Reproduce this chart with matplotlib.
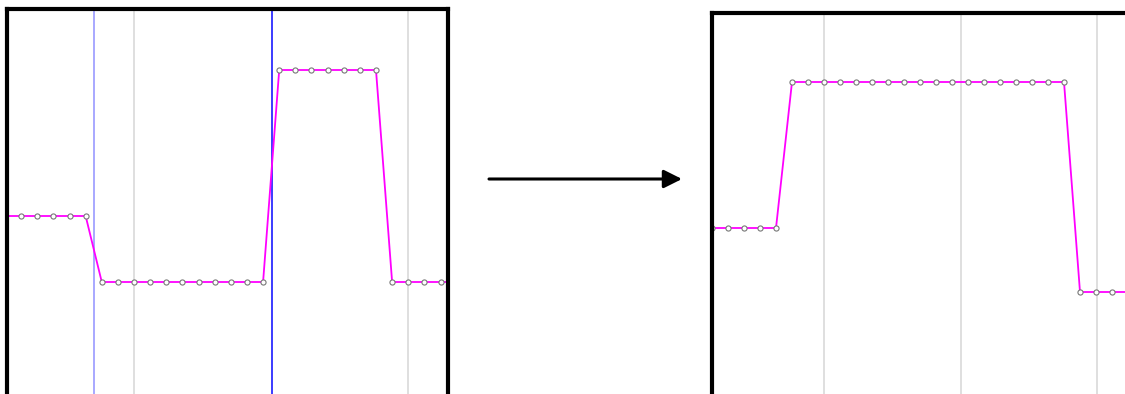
import numpy as np
import matplotlib.pyplot as plt

# ===== DATA =====
# left panel: signal samples (step index -> level)
left_idx = np.arange(0, 29)
left_val = [66] * 6 + [0] * 11 + [212] * 7 + [0] * 5
left_grid = [8, 25]
left_marks = [5.52, 16.55]          # vertical cursor lines
left_mark_colors = ["#9a9aff", "#1a1aff"]

# right panel: signal after transformation
right_idx = np.arange(0, 27)
right_val = [64] * 5 + [210] * 18 + [0] * 4
right_grid = [7, 15.56, 24.06]

W, H = 1125, 394
fig = plt.figure(figsize=(W / 100, H / 100), dpi=100)


def px_axes(x0, x1, y_top, y_bot):
    # axes placed by pixel box (y measured from top)
    return fig.add_axes([x0 / W, 1 - y_bot / H, (x1 - x0) / W, (y_bot - y_top) / H])


def style(ax, show_right):
    ax.set_xticks([])
    ax.set_yticks([])
    for s in ["top", "left", "right"]:
        ax.spines[s].set_linewidth(3)
        ax.spines[s].set_color("black")
        ax.spines[s].set_zorder(5)
    ax.spines["bottom"].set_visible(False)
    ax.spines["right"].set_visible(show_right)


def draw_signal(ax, x, y):
    ax.plot(x, y, color="#ff00ff", linewidth=1.3, zorder=3,
            marker="o", markersize=3.7, markerfacecolor="white",
            markeredgecolor="#777777", markeredgewidth=0.8)


# ===== LEFT PANEL =====
axL = px_axes(7, 448, 9, 430)
for g in left_grid:
    axL.axvline(g, color="#d9d9d9", linewidth=1.2, zorder=1)
for m, c in zip(left_marks, left_mark_colors):
    axL.axvline(m, color=c, linewidth=1.2, zorder=2)
draw_signal(axL, left_idx, left_val)
axL.set_xlim((7 - 5) / 16.13, (448 - 5) / 16.13)
axL.set_ylim(282 - 430, 282 - 9)
style(axL, True)

# ===== RIGHT PANEL =====
axR = px_axes(712, 1145, 13, 430)
for g in right_grid:
    axR.axvline(g, color="#d9d9d9", linewidth=1.2, zorder=1)
draw_signal(axR, right_idx, right_val)
axR.set_xlim(0, (1145 - 712) / 16.0)
axR.set_ylim(292 - 430, 292 - 13)
style(axR, False)

# ===== ARROW =====
axA = fig.add_axes([0, 0, 1, 1])
axA.set_xlim(0, W)
axA.set_ylim(H, 0)
axA.axis("off")
axA.annotate("", xy=(682, 179), xytext=(489, 179),
             arrowprops=dict(arrowstyle="-|>,head_length=1.1,head_width=0.55",
                             color="black", linewidth=2.2, shrinkA=0, shrinkB=0))

fig.savefig("out.png", dpi=100)
